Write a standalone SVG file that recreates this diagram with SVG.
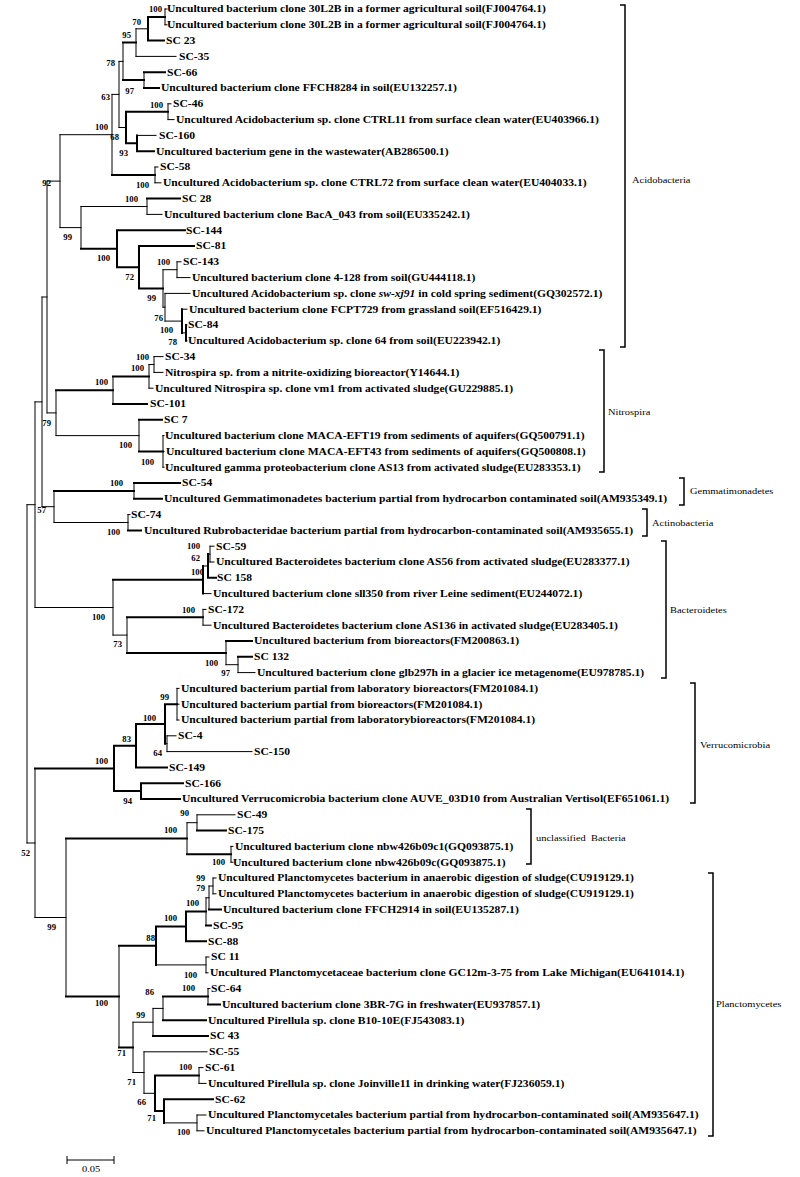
<svg xmlns="http://www.w3.org/2000/svg" width="800" height="1177" viewBox="0 0 800 1177">
<style>
.e{fill:none;stroke:#000;stroke-width:1;stroke-linecap:square}
.k{fill:none;stroke:#000;stroke-width:2;stroke-linecap:square}
.br{fill:none;stroke:#000;stroke-width:1.5}
text{font-family:"Liberation Serif","Times New Roman",serif;fill:#000}
.lf{font-size:10px;font-weight:bold;transform:scaleX(1.16);transform-box:fill-box;transform-origin:0 50%}
.bs{font-size:7.5px;font-weight:bold;text-anchor:end;transform:scaleX(1.16);transform-box:fill-box;transform-origin:100% 50%}
.cl{font-size:9px;transform:scaleX(1.16);transform-box:fill-box;transform-origin:0 50%}
</style>
<rect width="800" height="1177" fill="#fff"/>
<g id="connectors">
<path class="e" d="M165 9V24.8M165 9H167M165 24.8H167M136 28.8V56.4M136 28.8H148M136 56.4H176M144 72.2V88M123 42.6V80.1M119 61.4V127.5M119 61.4H123M119 127.5H126M168 103.8V119.6M168 103.8H171M168 119.6H174M137 135.4H156M112 94.4V174.9M112 94.4H119M155 167V182.8M155 167H158M155 182.8H161M60 134.7V227.6M60 134.7H112M60 227.6H81M81 206.5V248.7M81 206.5H147M147 198.6V214.4M147 214.4H162M163 269.7V307.2M163 269.7H177M163 307.2H165M177 261.8V277.6M177 261.8H181M177 277.6H190M165 293.4V321.1M165 293.4H190M165 321.1H182M182 309.2H187M182 332.9H186M186 325H187M186 340.8H187M47 181.1V412.9M47 181.1H60M47 412.9H56"/>
<path class="k" d="M148 16.9H165M148 40.6H164M148 16.9V40.6M144 72.2H165M144 88H159M123 42.6H136M123 80.1H144M126 111.7V143.3M126 111.7H168M126 143.3H137M137 135.4V151.2M137 151.2H154M112 174.9H155M81 248.7H117M147 198.6H180M117 230.2V267.2M117 230.2H185M117 267.2H139M139 246V288.5M139 246H194M139 288.5H163M182 309.2V332.9M186 325V340.8"/>
<path class="e" d="M154 356.6V372.4M154 356.6H163M154 372.4H163M149 364.5V388.2M149 364.5H154M149 388.2H153M113 376.4V404M56 390.2V435.6M56 435.6H139M139 419.8V451.4M163 435.6V467.2M163 435.6H164M163 451.4H164M163 467.2H164"/>
<path class="k" d="M113 376.4H149M113 404H147M56 390.2H113M139 419.8H162M139 451.4H163"/>
<path class="e" d="M134 483V498.8M128 514.6V530.4M128 514.6H130M54 490.9V522.5M54 522.5H128M42 297V506.7M42 297H47M42 506.7H54"/>
<path class="k" d="M134 483H180M134 498.8H162M128 530.4H141M54 490.9H134"/>
<path class="e" d="M210 546.2V562M210 546.2H214M210 562H214M208 554.1H210M203 566H208M203 593.6H211M203 609.4V625.2M203 609.4H206M203 625.2H211M238 656.8V672.6M238 672.6H255M226 641V664.7M226 664.7H238M127 617.3V652.9M113 579.8V635.1M113 635.1H127M35 401.9V607.5M35 401.9H42M35 607.5H113"/>
<path class="k" d="M208 554.1V577.8M208 577.8H216M203 566V593.6M238 656.8H252M226 641H252M127 617.3H203M127 652.9H226M113 579.8H203"/>
<path class="e" d="M177 688.4V720M177 688.4H179M177 704.2H179M177 720H179M167 735.8V751.6M167 735.8H176M167 751.6H252M165 743.7H167"/>
<path class="k" d="M165 704.2V743.7M165 704.2H177M136 724V767.4M136 724H165M136 767.4H167M141 783.2V799M141 783.2H183M141 799H180M114 745.7V791.1M114 745.7H136M114 791.1H141"/>
<path class="e" d="M197 814.8V830.6M197 814.8H235M231 846.4V862.2M231 846.4H233M231 862.2H233M187 822.7V854.3M187 822.7H197"/>
<path class="k" d="M197 830.6H226M187 854.3H231"/>
<path class="e" d="M213 878V893.8M213 878H216M213 893.8H216M209 886V909.6M209 886H213M206 897.8V925.4M206 897.8H209M206 957V972.8M206 957H209M206 972.8H208M156 964.9H206M208 988.6V1004.4M208 988.6H210M163 996.5V1020.2M153 1008.4V1036M153 1008.4H163M199 1067.6V1083.4M199 1067.6H203M199 1083.4H206M197 1115V1130.8M197 1115H206M197 1130.8H204M164 1122.9H197M144 1051.8V1093.3M144 1051.8H207M144 1093.3H155M133 1022.2V1072.5M133 1022.2H153M133 1072.5H144M119 945.7V1047.4M66 838.5V996.5M35 768.4V917.5M35 917.5H66M27 504.7V843M27 504.7H35M27 843H35"/>
<path class="k" d="M35 768.4H114M209 909.6H221M206 925.4H211M186 911.6V941.2M186 911.6H206M186 941.2H206M156 926.4V964.9M156 926.4H186M208 1004.4H220M163 996.5H208M163 1020.2H206M153 1036H208M164 1099.2V1122.9M164 1099.2H213M155 1075.5V1111M155 1075.5H199M155 1111H164M119 945.7H156M119 1047.4H133M66 838.5H187M66 996.5H119"/>
</g>
<g id="bootstrap">
<text class="bs" x="162" y="11.7">100</text><text class="bs" x="141" y="24.7">70</text><text class="bs" x="131" y="37.7">95</text><text class="bs" x="115" y="65.7">78</text><text class="bs" x="134" y="93.7">97</text><text class="bs" x="110" y="99.7">63</text><text class="bs" x="163" y="107.7">100</text><text class="bs" x="108" y="129.7">100</text><text class="bs" x="119" y="139.7">68</text><text class="bs" x="128" y="155.7">93</text><text class="bs" x="149" y="187.7">100</text><text class="bs" x="51" y="185.7">92</text><text class="bs" x="138" y="201.7">100</text><text class="bs" x="72" y="239.7">99</text><text class="bs" x="110" y="260.7">100</text><text class="bs" x="170" y="264.7">100</text><text class="bs" x="134" y="279.7">72</text><text class="bs" x="156" y="300.7">99</text><text class="bs" x="163" y="320.7">76</text><text class="bs" x="173" y="332.7">100</text><text class="bs" x="177" y="344.7">78</text>
<text class="bs" x="149" y="359.7">100</text><text class="bs" x="144" y="370.7">100</text><text class="bs" x="108" y="384.7">100</text><text class="bs" x="51" y="425.7">79</text><text class="bs" x="132" y="447.7">100</text><text class="bs" x="154" y="464.7">100</text>
<text class="bs" x="123" y="485.7">100</text><text class="bs" x="46" y="512.7">57</text><text class="bs" x="120" y="534.7">100</text>
<text class="bs" x="200" y="548.7">100</text><text class="bs" x="200" y="560.7">62</text><text class="bs" x="204" y="574.7">100</text><text class="bs" x="105" y="619.7">100</text><text class="bs" x="195" y="612.7">100</text><text class="bs" x="122" y="646.7">73</text><text class="bs" x="218" y="665.7">100</text><text class="bs" x="230" y="675.7">97</text>
<text class="bs" x="169" y="699.7">99</text><text class="bs" x="156" y="720.7">100</text><text class="bs" x="131" y="741.7">83</text><text class="bs" x="162" y="755.7">64</text><text class="bs" x="108" y="763.7">100</text><text class="bs" x="132" y="803.7">94</text>
<text class="bs" x="189" y="815.7">90</text><text class="bs" x="177" y="832.7">100</text><text class="bs" x="225" y="864.7">100</text><text class="bs" x="30" y="855.7">52</text><text class="bs" x="56" y="929.7">99</text>
<text class="bs" x="205" y="880.7">99</text><text class="bs" x="205" y="890.7">79</text><text class="bs" x="199" y="905.7">100</text><text class="bs" x="177" y="920.7">100</text><text class="bs" x="155" y="940.7">88</text><text class="bs" x="197" y="977.7">100</text><text class="bs" x="195" y="990.7">100</text><text class="bs" x="154" y="994.7">86</text><text class="bs" x="108" y="1005.7">100</text><text class="bs" x="145" y="1017.7">99</text><text class="bs" x="126" y="1055.7">71</text><text class="bs" x="136" y="1084.7">71</text><text class="bs" x="192" y="1069.7">100</text><text class="bs" x="146" y="1104.7">66</text><text class="bs" x="156" y="1120.7">71</text><text class="bs" x="190" y="1134.7">100</text>
</g>
<g id="L01"><text class="lf" x="167" y="12.5">Uncultured bacterium clone 30L2B in a former agricultural soil(FJ004764.1)</text></g>
<g id="L02"><text class="lf" x="167" y="28.3">Uncultured bacterium clone 30L2B in a former agricultural soil(FJ004764.1)</text></g>
<g id="L03"><text class="lf" x="166" y="44.1">SC 23</text></g>
<g id="L04"><text class="lf" x="179" y="59.9">SC-35</text></g>
<g id="L05"><text class="lf" x="167" y="75.7">SC-66</text></g>
<g id="L06"><text class="lf" x="161" y="91.5">Uncultured bacterium clone FFCH8284 in soil(EU132257.1)</text></g>
<g id="L07"><text class="lf" x="173" y="107.3">SC-46</text></g>
<g id="L08"><text class="lf" x="176" y="123.1">Uncultured Acidobacterium sp. clone CTRL11 from surface clean water(EU403966.1)</text></g>
<g id="L09"><text class="lf" x="159" y="138.9">SC-160</text></g>
<g id="L10"><text class="lf" x="156" y="154.7">Uncultured bacterium gene in the wastewater(AB286500.1)</text></g>
<g id="L11"><text class="lf" x="160" y="170.5">SC-58</text></g>
<g id="L12"><text class="lf" x="163" y="186.3">Uncultured Acidobacterium sp. clone CTRL72 from surface clean water(EU404033.1)</text></g>
<g id="L13"><text class="lf" x="182" y="202.1">SC 28</text></g>
<g id="L14"><text class="lf" x="164" y="217.9">Uncultured bacterium clone BacA_043 from soil(EU335242.1)</text></g>
<g id="L15"><text class="lf" x="186" y="233.7">SC-144</text></g>
<g id="L16"><text class="lf" x="196" y="249.5">SC-81</text></g>
<g id="L17"><text class="lf" x="183" y="265.3">SC-143</text></g>
<g id="L18"><text class="lf" x="192" y="281.1">Uncultured bacterium clone 4-128 from soil(GU444118.1)</text></g>
<g id="L19"><text class="lf" x="192" y="296.9">Uncultured Acidobacterium sp. clone <tspan font-style="italic">sw-xj91</tspan> in cold spring sediment(GQ302572.1)</text></g>
<g id="L20"><text class="lf" x="189" y="312.7">Uncultured bacterium clone FCPT729 from grassland soil(EF516429.1)</text></g>
<g id="L21"><text class="lf" x="188" y="328.5">SC-84</text></g>
<g id="L22"><text class="lf" x="188" y="344.3">Uncultured Acidobacterium sp. clone 64 from soil(EU223942.1)</text></g>
<g id="L23"><text class="lf" x="165" y="360.1">SC-34</text></g>
<g id="L24"><text class="lf" x="165" y="375.9">Nitrospira sp. from a nitrite-oxidizing bioreactor(Y14644.1)</text></g>
<g id="L25"><text class="lf" x="155" y="391.7">Uncultured Nitrospira sp. clone vm1 from activated sludge(GU229885.1)</text></g>
<g id="L26"><text class="lf" x="150" y="407.5">SC-101</text></g>
<g id="L27"><text class="lf" x="164" y="423.3">SC 7</text></g>
<g id="L28"><text class="lf" x="165" y="439.1">Uncultured bacterium clone MACA-EFT19 from sediments of aquifers(GQ500791.1)</text></g>
<g id="L29"><text class="lf" x="166" y="454.9">Uncultured bacterium clone MACA-EFT43 from sediments of aquifers(GQ500808.1)</text></g>
<g id="L30"><text class="lf" x="165" y="470.7">Uncultured gamma proteobacterium clone AS13 from activated sludge(EU283353.1)</text></g>
<g id="L31"><text class="lf" x="182" y="486.5">SC-54</text></g>
<g id="L32"><text class="lf" x="164" y="502.3">Uncultured Gemmatimonadetes bacterium partial from hydrocarbon contaminated soil(AM935349.1)</text></g>
<g id="L33"><text class="lf" x="131" y="518.1">SC-74</text></g>
<g id="L34"><text class="lf" x="144" y="533.9">Uncultured Rubrobacteridae bacterium partial from hydrocarbon-contaminated soil(AM935655.1)</text></g>
<g id="L35"><text class="lf" x="216" y="549.7">SC-59</text></g>
<g id="L36"><text class="lf" x="216" y="565.5">Uncultured Bacteroidetes bacterium clone AS56 from activated sludge(EU283377.1)</text></g>
<g id="L37"><text class="lf" x="217" y="581.3">SC 158</text></g>
<g id="L38"><text class="lf" x="213" y="597.1">Uncultured bacterium clone sll350 from river Leine sediment(EU244072.1)</text></g>
<g id="L39"><text class="lf" x="208" y="612.9">SC-172</text></g>
<g id="L40"><text class="lf" x="213" y="628.7">Uncultured Bacteroidetes bacterium clone AS136 in activated sludge(EU283405.1)</text></g>
<g id="L41"><text class="lf" x="254" y="644.5">Uncultured bacterium from bioreactors(FM200863.1)</text></g>
<g id="L42"><text class="lf" x="254" y="660.3">SC 132</text></g>
<g id="L43"><text class="lf" x="257" y="676.1">Uncultured bacterium clone glb297h in a glacier ice metagenome(EU978785.1)</text></g>
<g id="L44"><text class="lf" x="181" y="691.9">Uncultured bacterium partial from laboratory bioreactors(FM201084.1)</text></g>
<g id="L45"><text class="lf" x="181" y="707.7">Uncultured bacterium partial from bioreactors(FM201084.1)</text></g>
<g id="L46"><text class="lf" x="181" y="723.5">Uncultured bacterium partial from laboratorybioreactors(FM201084.1)</text></g>
<g id="L47"><text class="lf" x="178" y="739.3">SC-4</text></g>
<g id="L48"><text class="lf" x="254" y="755.1">SC-150</text></g>
<g id="L49"><text class="lf" x="169" y="770.9">SC-149</text></g>
<g id="L50"><text class="lf" x="185" y="786.7">SC-166</text></g>
<g id="L51"><text class="lf" x="182" y="802.5">Uncultured Verrucomicrobia bacterium clone AUVE_03D10 from Australian Vertisol(EF651061.1)</text></g>
<g id="L52"><text class="lf" x="237" y="818.3">SC-49</text></g>
<g id="L53"><text class="lf" x="228" y="834.1">SC-175</text></g>
<g id="L54"><text class="lf" x="235" y="849.9">Uncultured bacterium clone nbw426b09c1(GQ093875.1)</text></g>
<g id="L55"><text class="lf" x="233" y="865.7">Uncultured bacterium clone nbw426b09c(GQ093875.1)</text></g>
<g id="L56"><text class="lf" x="218" y="881.5">Uncultured Planctomycetes bacterium in anaerobic digestion of sludge(CU919129.1)</text></g>
<g id="L57"><text class="lf" x="218" y="897.3">Uncultured Planctomycetes bacterium in anaerobic digestion of sludge(CU919129.1)</text></g>
<g id="L58"><text class="lf" x="223" y="913.1">Uncultured bacterium clone FFCH2914 in soil(EU135287.1)</text></g>
<g id="L59"><text class="lf" x="213" y="928.9">SC-95</text></g>
<g id="L60"><text class="lf" x="208" y="944.7">SC-88</text></g>
<g id="L61"><text class="lf" x="211" y="960.5">SC 11</text></g>
<g id="L62"><text class="lf" x="210" y="976.3">Uncultured Planctomycetaceae bacterium clone GC12m-3-75 from Lake Michigan(EU641014.1)</text></g>
<g id="L63"><text class="lf" x="211" y="992.1">SC-64</text></g>
<g id="L64"><text class="lf" x="222" y="1007.9">Uncultured bacterium clone 3BR-7G in freshwater(EU937857.1)</text></g>
<g id="L65"><text class="lf" x="208" y="1023.7">Uncultured Pirellula sp. clone B10-10E(FJ543083.1)</text></g>
<g id="L66"><text class="lf" x="210" y="1039.5">SC 43</text></g>
<g id="L67"><text class="lf" x="209" y="1055.3">SC-55</text></g>
<g id="L68"><text class="lf" x="205" y="1071.1">SC-61</text></g>
<g id="L69"><text class="lf" x="208" y="1086.9">Uncultured Pirellula sp. clone Joinville11 in drinking water(FJ236059.1)</text></g>
<g id="L70"><text class="lf" x="215" y="1102.7">SC-62</text></g>
<g id="L71"><text class="lf" x="208" y="1118.5">Uncultured Planctomycetales bacterium partial from hydrocarbon-contaminated soil(AM935647.1)</text></g>
<g id="L72"><text class="lf" x="206" y="1134.3">Uncultured Planctomycetales bacterium partial from hydrocarbon-contaminated soil(AM935647.1)</text></g>
<g id="clade-acidobacteria"><path class="br" d="M620 5H625V347H620"/><text class="cl" x="632" y="183">Acidobacteria</text></g>
<g id="clade-nitrospira"><path class="br" d="M599 350H604V472H599"/><text class="cl" x="608" y="415">Nitrospira</text></g>
<g id="clade-gemmatimonadetes"><path class="br" d="M679 478H684V505H679"/><text class="cl" x="690" y="494">Gemmatimonadetes</text></g>
<g id="clade-actinobacteria"><path class="br" d="M642 509H647V536H642"/><text class="cl" x="652" y="526">Actinobacteria</text></g>
<g id="clade-bacteroidetes"><path class="br" d="M661 541H666V678H661"/><text class="cl" x="670" y="613">Bacteroidetes</text></g>
<g id="clade-verrucomicrobia"><path class="br" d="M690 683H695V803H690"/><text class="cl" x="700" y="748">Verrucomicrobia</text></g>
<g id="clade-unclassified"><path class="br" d="M526 809H531V864H526"/><text class="cl" x="536" y="841">unclassified&#160; Bacteria</text></g>
<g id="clade-planctomycetes"><path class="br" d="M708 873H713V1136H708"/><text class="cl" x="716" y="1007">Planctomycetes</text></g>
<g id="scale-bar"><path class="e" d="M67 1160H114M67 1156V1164M114 1156V1164" style="stroke-linecap:butt"/><text class="cl" x="82" y="1172">0.05</text></g>
</svg>
